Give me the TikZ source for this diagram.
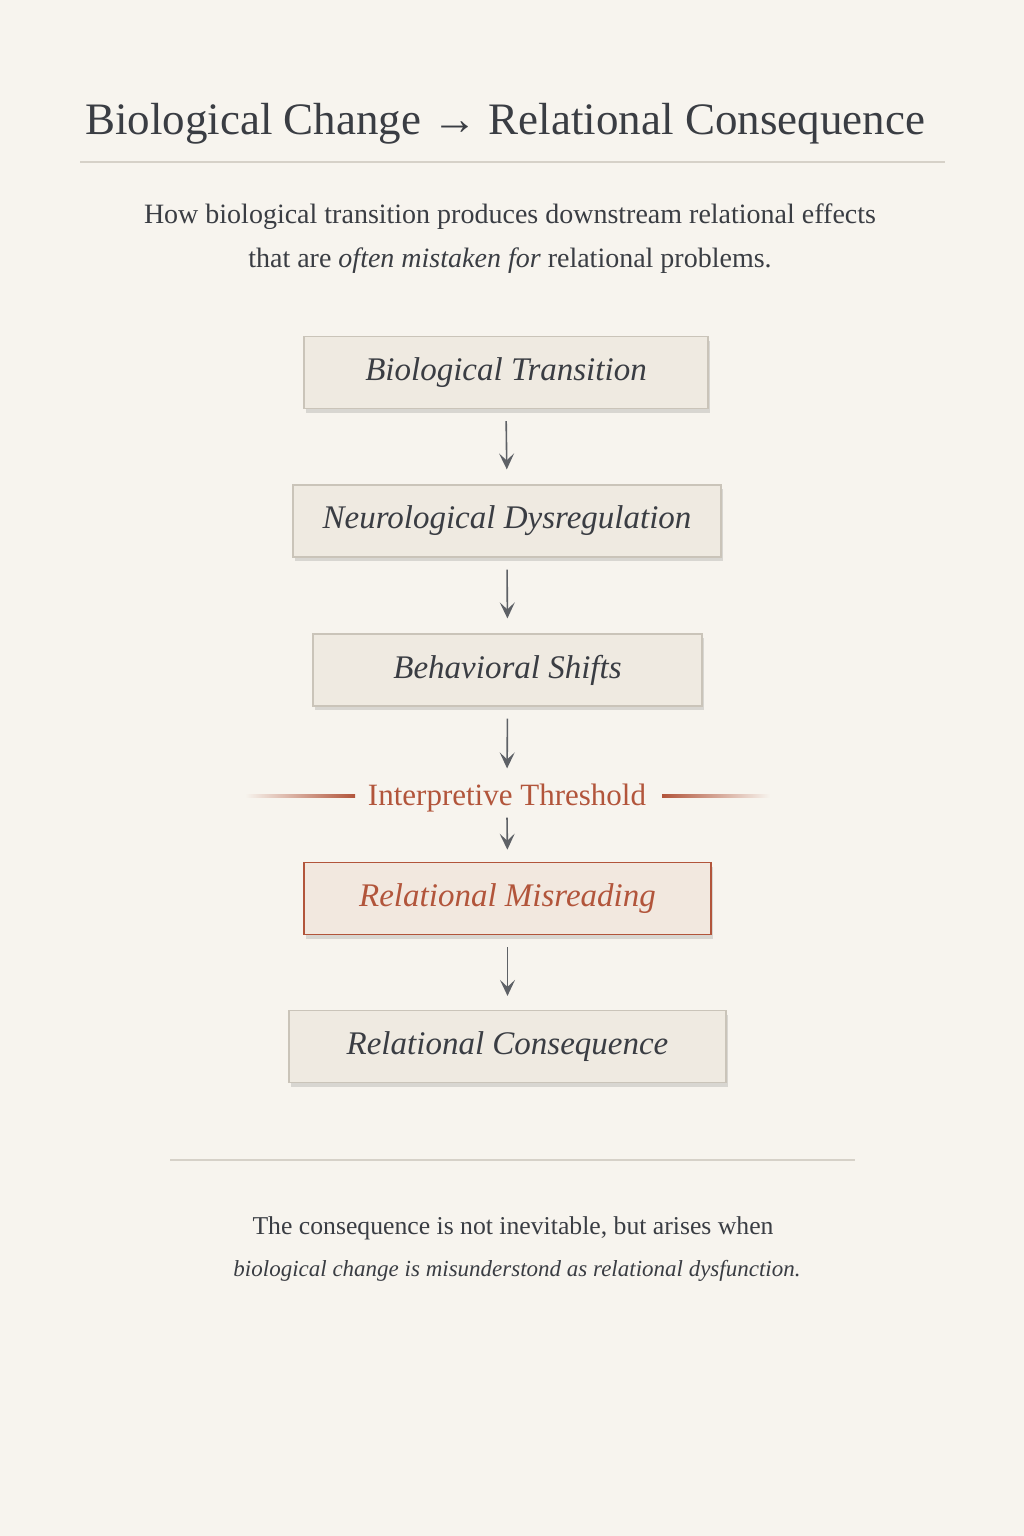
\documentclass[tikz,border=0pt]{standalone}
\usepackage{fontspec}
\setmainfont{Liberation Serif}
\usetikzlibrary{arrows.meta,shadows}
\definecolor{paper}{HTML}{F7F4EE}
\definecolor{ink}{HTML}{3A3D43}
\definecolor{boxfill}{HTML}{EFEAE1}
\definecolor{boxline}{HTML}{CAC4B9}
\definecolor{rust}{HTML}{B2553B}
\definecolor{rustfill}{HTML}{F2E8DF}
\definecolor{rulegrey}{HTML}{D6D1C8}
\definecolor{arrowgrey}{HTML}{5E6166}
\tikzset{
  stage/.style={draw=boxline, fill=boxfill, line width=1.2pt, minimum height=72pt,
    font=\fontsize{33}{38}\selectfont\itshape, text=ink,
    drop shadow={shadow xshift=2pt, shadow yshift=-4pt, opacity=0.12, fill=black}},
  flow/.style={-{Stealth[length=16pt,width=15pt,inset=7pt]}, draw=arrowgrey, line width=1.6pt},
}
\begin{document}
\begin{tikzpicture}[x=1pt, y=-1pt]
  \useasboundingbox[fill=paper] (0,0) rectangle (1024,1536); %page

  \node[text=ink, font=\fontsize{45}{50}\selectfont] (title) at (505,124) {Biological Change → Relational Consequence}; %titre
  \draw[rulegrey, line width=1.2pt] (80,162) -- (945,162); %filet haut

  \node[text=ink, font=\fontsize{28}{32}\selectfont] (sub1) at (510,217) {How biological transition produces downstream relational effects};
  \node[text=ink, font=\fontsize{28}{32}\selectfont] (sub2) at (510,261) {that are \textit{often mistaken for} relational problems.};

  \node[stage, minimum width=404pt] (bio) at (506,372.5) {\raisebox{-2pt}{Biological Transition}};
  \node[stage, minimum width=428pt] (neuro) at (507,521) {\raisebox{-2pt}{Neurological Dysregulation}};
  \node[stage, minimum width=389pt] (behav) at (507.5,670) {\raisebox{-2pt}{Behavioral Shifts}};

  % seuil
  \node[text=rust, font=\fontsize{31}{35}\selectfont] (thresh) at (507,798) {Interpretive Threshold};
  \shade[left color=paper, right color=rust] (245,794.5) rectangle (355,797.5);
  \shade[left color=rust, right color=paper] (662,794.5) rectangle (770,797.5);

  \node[stage, draw=rust, fill=rustfill, text=rust, line width=1.6pt, minimum width=407pt] (misread) at (507.5,898.5) {\raisebox{-2pt}{Relational Misreading}};
  \node[stage, minimum width=437pt] (conseq) at (507.5,1046.5) {\raisebox{-2pt}{Relational Consequence}};

  % fleches
  \draw[flow, shorten <=12pt, shorten >=15pt] (bio.south) -- (neuro.north);
  \draw[flow, shorten <=12pt, shorten >=15pt] (neuro.south) -- (behav.north);
  \draw[flow, shorten <=12pt, shorten >=12pt] (behav.south) -- (thresh.north);
  \draw[flow, shorten <=2pt, shorten >=12pt] (thresh.south) -- (misread.north);
  \draw[flow, shorten <=12pt, shorten >=14pt] (misread.south) -- (conseq.north);

  \draw[rulegrey, line width=1.2pt] (170,1160) -- (855,1160); %filet bas
  \node[text=ink, font=\fontsize{25.7}{30}\selectfont] (note1) at (513,1228) {The consequence is not inevitable, but arises when};
  \node[text=ink, font=\fontsize{23}{28}\selectfont\itshape] (note2) at (517,1271) {biological change is misunderstond as relational dysfunction.};
\end{tikzpicture}
\end{document}
